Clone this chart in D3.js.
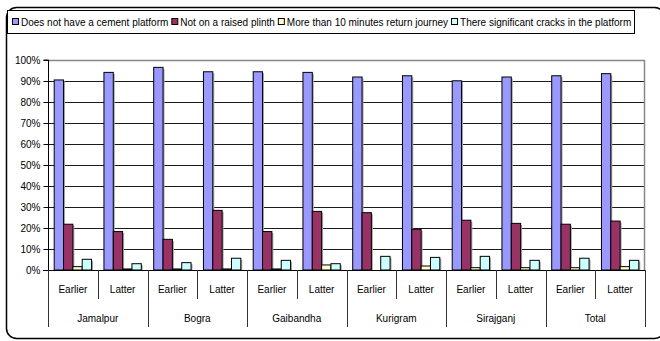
<!DOCTYPE html>
<html>
<head>
<meta charset="utf-8">
<script src="https://cdn.jsdelivr.net/npm/d3@7"></script>
<style>
  html, body { margin: 0; padding: 0; background: #fff; }
  svg { display: block; font-family: "Liberation Sans", Arial, sans-serif; }
</style>
</head>
<body>
<svg id="chart" width="660" height="341"></svg>
<script>
// Districts and survey periods
const groups = ["Jamalpur", "Bogra", "Gaibandha", "Kurigram", "Sirajganj", "Total"];
const periods = ["Earlier", "Latter"];

// Series names shown in the legend
const seriesNames = [
  "Does not have a cement platform",
  "Not on a raised plinth",
  "More than 10 minutes return journey",
  "There significant cracks in the platform"
];
const seriesColors = ["#9999ff", "#993366", "#ffffcc", "#ccffff"];

// Percentages, one value per district/period (Earlier, Latter, ...)
const noCementPlatform  = [90.5, 94.1, 96.5, 94.4, 94.4, 94.1, 91.9, 92.5, 90.1, 91.9, 92.5, 93.5];
const notRaisedPlinth   = [21.8, 18.3, 14.6, 28.4, 18.3, 27.9, 27.3, 19.4, 23.7, 22.2, 21.8, 23.3];
const overTenMinutes    = [1.6, 0.5, 0.5, 0.5, 0.5, 2.4, 0.0, 1.9, 1.1, 1.1, 1.1, 1.6];
const significantCracks = [5.1, 3.0, 3.5, 5.6, 4.6, 3.0, 6.5, 6.0, 6.5, 4.6, 5.6, 4.6];

const yTicks = [0, 10, 20, 30, 40, 50, 60, 70, 80, 90, 100];

const seriesValues = [noCementPlatform, notRaisedPlinth, overTenMinutes, significantCracks];
const categories = [];
groups.forEach(g => periods.forEach(p => categories.push({ group: g, period: p })));

const svg = d3.select("#chart");

// Plot area
const plotLeft = 48, plotRight = 645, plotTop = 60, plotBottom = 270;

const x0 = d3.scaleBand().domain(d3.range(categories.length)).range([plotLeft, plotRight]).padding(0);
const x1 = d3.scaleBand().domain(d3.range(seriesNames.length))
  .range([6.2, x0.bandwidth() - 6.2]).padding(0);
const y = d3.scaleLinear().domain([0, 100]).range([plotBottom, plotTop]);

// Outer rounded frame (runs off the right edge)
svg.append("rect")
  .attr("x", 6.5).attr("y", 7.5)
  .attr("width", 658).attr("height", 331)
  .attr("rx", 10).attr("ry", 10)
  .attr("fill", "#fff").attr("stroke", "#000").attr("stroke-width", 1.5);

// Horizontal gridlines
svg.append("g")
  .selectAll("line")
  .data(yTicks.filter(t => t > 0 && t < 100))
  .join("line")
  .attr("x1", plotLeft).attr("x2", plotRight)
  .attr("y1", d => Math.round(y(d)) + 0.5).attr("y2", d => Math.round(y(d)) + 0.5)
  .attr("stroke", "#1a1a1a").attr("stroke-width", 1);

// Plot area top and right border
svg.append("path")
  .attr("d", `M${plotLeft},${y(100) + 0.5}H${plotRight - 0.5}V${plotBottom}`)
  .attr("fill", "none").attr("stroke", "#888").attr("stroke-width", 1.5);

// Bars with a soft drop shadow
const catG = svg.append("g").selectAll("g")
  .data(categories)
  .join("g")
  .attr("transform", (d, i) => `translate(${x0(i)},0)`);

catG.each(function(c, ci) {
  const g = d3.select(this);
  const vals = seriesValues.map((arr, si) => ({ si, v: arr[ci] }));
  g.selectAll("rect.shadow")
    .data(vals.filter(d => d.v > 0))
    .join("rect")
    .attr("class", "shadow")
    .attr("x", d => x1(d.si) + 1.5)
    .attr("y", d => y(d.v) + 1.5)
    .attr("width", x1.bandwidth())
    .attr("height", d => Math.max(0, y(0) - y(d.v) - 1.5))
    .attr("fill", "#a8a8a8");
  g.selectAll("rect.bar")
    .data(vals.filter(d => d.v > 0))
    .join("rect")
    .attr("class", "bar")
    .attr("x", d => x1(d.si))
    .attr("y", d => y(d.v))
    .attr("width", x1.bandwidth())
    .attr("height", d => y(0) - y(d.v))
    .attr("fill", d => seriesColors[d.si])
    .attr("stroke", "#000").attr("stroke-width", 1);
});

// Y axis
const yAxis = d3.axisLeft(y).tickValues(yTicks).tickFormat(d => d + "%").tickSize(5).tickPadding(3);
const yg = svg.append("g").attr("transform", `translate(${plotLeft + 0.5},0)`).call(yAxis);
yg.select(".domain").attr("stroke", "#000").attr("d", `M-5,${y(100)}H0V${y(0)}`);
yg.selectAll(".tick line").attr("stroke", "#000");
yg.selectAll(".tick text").attr("font-size", "10px").attr("fill", "#000")
  .attr("font-family", "Liberation Sans, Arial, sans-serif");

// X axis baseline
svg.append("line")
  .attr("x1", plotLeft - 5).attr("x2", plotRight)
  .attr("y1", plotBottom + 0.5).attr("y2", plotBottom + 0.5)
  .attr("stroke", "#000").attr("stroke-width", 1);

// Category separators: short between periods, long between districts
const sepG = svg.append("g");
d3.range(categories.length + 1).forEach(i => {
  const xx = Math.round(i < categories.length ? x0(i) : plotRight) + 0.5;
  const long = i % periods.length === 0;
  sepG.append("line")
    .attr("x1", xx).attr("x2", xx)
    .attr("y1", plotBottom).attr("y2", long ? 327 : 299)
    .attr("stroke", "#333").attr("stroke-width", 1);
});

// Period labels
svg.append("g").selectAll("text")
  .data(categories)
  .join("text")
  .attr("x", (d, i) => x0(i) + x0.bandwidth() / 2)
  .attr("y", 293)
  .attr("text-anchor", "middle")
  .attr("font-size", "10px")
  .attr("fill", "#000")
  .text(d => d.period);

// District labels
svg.append("g").selectAll("text")
  .data(groups)
  .join("text")
  .attr("x", (d, i) => x0(i * periods.length) + x0.bandwidth())
  .attr("y", 322)
  .attr("text-anchor", "middle")
  .attr("font-size", "10px")
  .attr("fill", "#000")
  .text(d => d);

// Legend
svg.append("rect")
  .attr("x", 7.5).attr("y", 10.5)
  .attr("width", 627).attr("height", 23)
  .attr("fill", "#fff").attr("stroke", "#000").attr("stroke-width", 1);

const legendG = svg.append("g");
let lx = 12;
seriesNames.forEach((name, i) => {
  legendG.append("rect")
    .attr("x", lx + 0.5).attr("y", 18.5)
    .attr("width", 6).attr("height", 6)
    .attr("fill", seriesColors[i]).attr("stroke", "#000").attr("stroke-width", 1);
  const t = legendG.append("text")
    .attr("x", lx + 9).attr("y", 25.5)
    .attr("font-size", "10px").attr("fill", "#000")
    .text(name);
  lx += 9 + t.node().getComputedTextLength() + 3;
});
</script>
</body>
</html>
